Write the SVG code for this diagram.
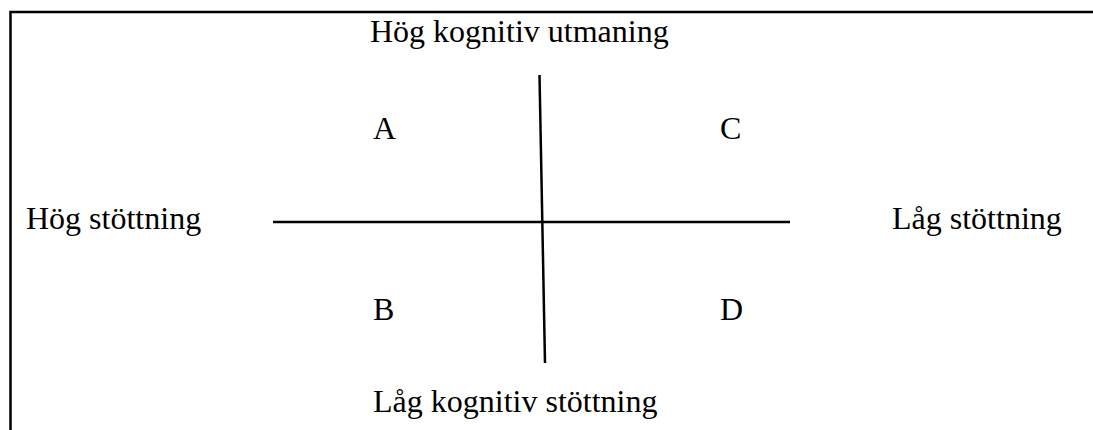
<svg xmlns="http://www.w3.org/2000/svg" width="1093" height="430" viewBox="0 0 1093 430">
<style>
text{font-family:"Liberation Serif","Times New Roman",serif;font-size:32px;fill:#000}
.ln{stroke:#000;stroke-width:2.5;fill:none}
</style>
<rect x="0" y="0" width="1093" height="430" fill="#fff"/>
<path class="ln" d="M10.5 430 V12 H1093" stroke-width="3"/>
<g id="connectors">
<line class="ln" x1="539.5" y1="75" x2="545" y2="363"/>
<line class="ln" x1="273" y1="222" x2="790" y2="222"/>
</g>
<g id="top"><text x="370" y="42">Hög kognitiv utmaning</text></g>
<g id="bottom"><text x="373" y="412">Låg kognitiv stöttning</text></g>
<g id="left"><text x="26" y="229">Hög stöttning</text></g>
<g id="right"><text x="892" y="229">Låg stöttning</text></g>
<g id="A"><text x="373" y="139">A</text></g>
<g id="C"><text x="720" y="139">C</text></g>
<g id="B"><text x="373" y="320">B</text></g>
<g id="D"><text x="720" y="320">D</text></g>
</svg>
